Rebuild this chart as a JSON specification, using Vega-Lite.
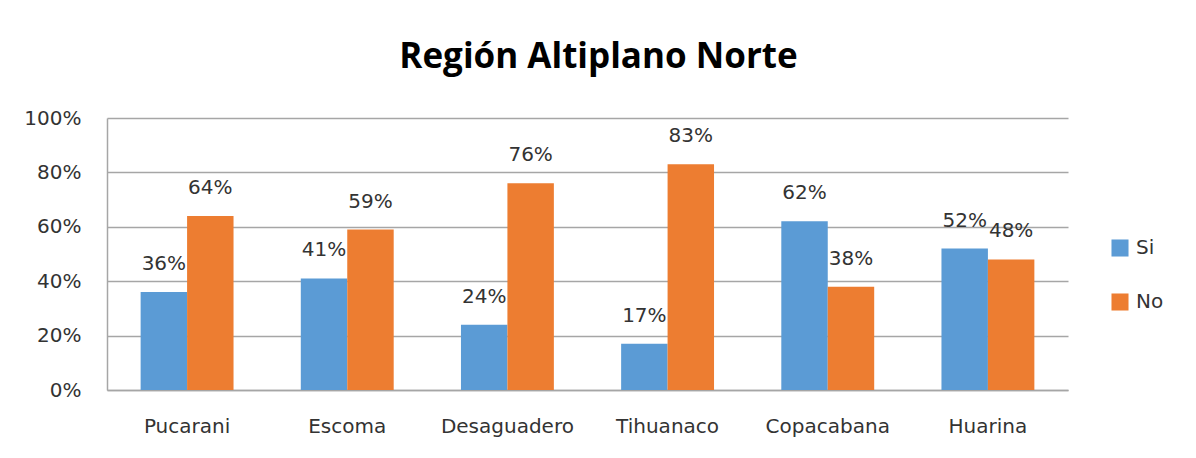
{
  "$schema": "https://vega.github.io/schema/vega-lite/v6.json",
  "width": 961,
  "height": 272,
  "autosize": {"type": "none"},
  "padding": {"left": 107, "top": 118, "right": 128, "bottom": 68},
  "background": "white",
  "config": {"view": {"stroke": null}, "font": "DejaVu Sans"},
  "title": {
    "text": "Región Altiplano Norte",
    "font": "Open Sans",
    "fontSize": 35,
    "fontWeight": "bold",
    "color": "#000000",
    "anchor": "middle",
    "frame": "group",
    "dx": 11,
    "offset": 33
  },
  "data": {
    "values": [
      {"lugar": "Pucarani", "resp": "Si", "v": 0.36},
      {"lugar": "Pucarani", "resp": "No", "v": 0.64},
      {"lugar": "Escoma", "resp": "Si", "v": 0.41},
      {"lugar": "Escoma", "resp": "No", "v": 0.59},
      {"lugar": "Desaguadero", "resp": "Si", "v": 0.24},
      {"lugar": "Desaguadero", "resp": "No", "v": 0.76},
      {"lugar": "Tihuanaco", "resp": "Si", "v": 0.17},
      {"lugar": "Tihuanaco", "resp": "No", "v": 0.83},
      {"lugar": "Copacabana", "resp": "Si", "v": 0.62},
      {"lugar": "Copacabana", "resp": "No", "v": 0.38},
      {"lugar": "Huarina", "resp": "Si", "v": 0.52},
      {"lugar": "Huarina", "resp": "No", "v": 0.48}
    ]
  },
  "encoding": {
    "x": {
      "field": "lugar",
      "type": "nominal",
      "sort": null,
      "scale": {"paddingInner": 0.42, "paddingOuter": 0.21},
      "axis": {
        "title": null,
        "labelAngle": 0,
        "labelFontSize": 20,
        "labelColor": "#333333",
        "labelPadding": 26,
        "ticks": false,
        "domainColor": "#A6A6A6",
        "domainWidth": 1.5
      }
    },
    "xOffset": {"field": "resp", "type": "nominal", "sort": ["Si", "No"], "scale": {"paddingInner": 0, "paddingOuter": 0}},
    "y": {
      "field": "v",
      "type": "quantitative",
      "scale": {"domain": [0, 1]},
      "axis": {
        "title": null,
        "format": ".0%",
        "values": [0, 0.2, 0.4, 0.6, 0.8, 1],
        "labelFontSize": 20,
        "labelColor": "#333333",
        "labelPadding": 26,
        "ticks": false,
        "domain": true,
        "domainColor": "#A6A6A6",
        "domainWidth": 1.5,
        "gridColor": "#A6A6A6",
        "gridWidth": 1.5
      }
    }
  },
  "layer": [
    {
      "mark": {"type": "bar"},
      "encoding": {
        "color": {
          "field": "resp",
          "type": "nominal",
          "sort": ["Si", "No"],
          "scale": {"domain": ["Si", "No"], "range": ["#5B9BD5", "#ED7D31"]},
          "legend": {
            "title": null,
            "orient": "none",
            "legendX": 1003,
            "legendY": 120,
            "symbolType": "square",
            "symbolSize": 290,
            "symbolStrokeWidth": 0,
            "labelFontSize": 20,
            "labelColor": "#333333",
            "labelOffset": 6,
            "rowPadding": 34
          }
        }
      }
    },
    {
      "mark": {"type": "text", "fontSize": 20, "color": "#333333", "baseline": "middle", "dy": -28},
      "encoding": {
        "text": {"field": "v", "type": "quantitative", "format": ".0%"}
      }
    }
  ]
}
